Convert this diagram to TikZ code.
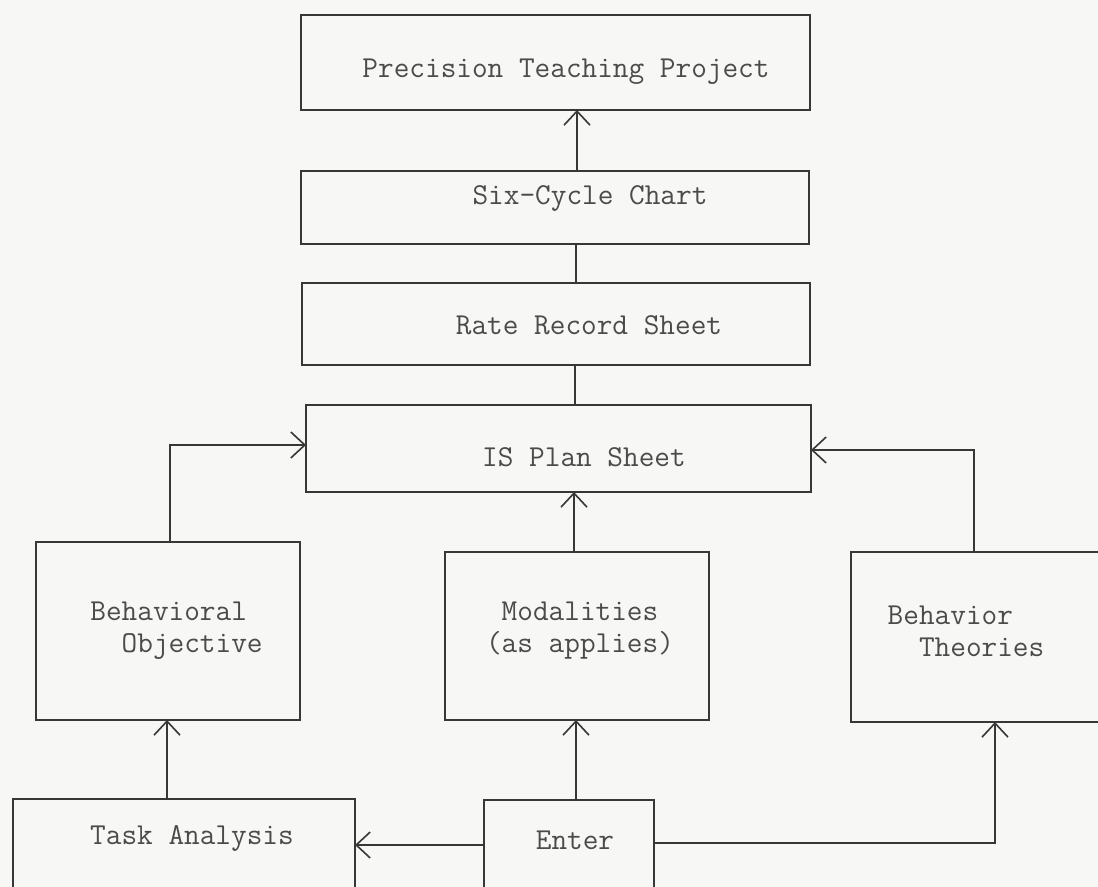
\documentclass[tikz,border=0pt]{standalone}
\usetikzlibrary{arrows.meta}
\definecolor{paper}{RGB}{247,247,245}
\definecolor{ink}{RGB}{55,55,55}
\definecolor{typeink}{RGB}{75,75,75}
\begin{document}
\begin{tikzpicture}[x=0.5pt,y=-0.5pt,
  box/.style={draw=ink, line width=0.8pt, rectangle, inner sep=0pt, outer sep=0pt},
  txt/.style={text=typeink, font=\fontsize{15.2pt}{16pt}\selectfont\ttfamily, inner sep=0pt},
  link/.style={draw=ink, line width=0.8pt},
  arr/.style={link, -{Straight Barb[length=7pt,width=13pt]}}]
% page
\fill[paper] (0,0) rectangle (1098,887);
\useasboundingbox (0,0) rectangle (1098,887);
\clip (0,0) rectangle (1098,887);

% boxes
\node[box, minimum width=254.5pt, minimum height=47.5pt] (ptp) at (555.5,62.5) {};
\node[box, minimum width=254pt, minimum height=36.5pt] (six) at (555,207.5) {};
\node[box, minimum width=254pt, minimum height=41pt] (rate) at (556,324) {};
\node[box, minimum width=252.5pt, minimum height=43.5pt] (isp) at (558.5,448.5) {};
\node[box, minimum width=132pt, minimum height=89pt] (bo) at (168,631) {};
\node[box, minimum width=132pt, minimum height=84pt] (mod) at (577,636) {};
\node[box, minimum width=139.5pt, minimum height=85pt] (bt) at (990.5,637) {};
\node[box, minimum width=171pt, minimum height=65.5pt] (ta) at (184,864.5) {};
\node[box, minimum width=85pt, minimum height=65pt] (ent) at (569,865) {};

% typed labels
\node[txt] (ptp-t) at (566,72) {Precision Teaching Project};
\node[txt] (six-t) at (590,199) {Six-Cycle Chart};
\node[txt] (rate-t) at (589,325) {Rate Record Sheet};
\node[txt] (isp-t) at (584,457) {IS Plan Sheet};
\node[txt, align=left] (bo-t) at (176.5,631) {Behavioral\\\hphantom{xx}Objective};
\node[txt, align=center] (mod-t) at (580,631) {Modalities\\(as applies)};
\node[txt, align=left] (bt-t) at (966,631) {Behavior\\\hphantom{xx}Theories};
\node[txt] (ta-t) at (192,838) {Task Analysis};
\node[txt] (ent-t) at (575,840) {Enter};

% connectors
\draw[arr] ([xshift=11pt]six.north) -- ([xshift=11pt]six.north |- ptp.south);
\draw[link] ([xshift=10pt]rate.north) -- ([xshift=10pt]rate.north |- six.south);
\draw[link] ([xshift=8.25pt]isp.north) -- ([xshift=8.25pt]isp.north |- rate.south);
\draw[arr] ([xshift=-1.5pt]mod.north) -- ([xshift=-1.5pt]mod.north |- isp.south);
\draw[arr] ([xshift=1pt]bo.north) |- ([yshift=1.75pt]isp.west);
\draw[arr] ([xshift=-8.25pt]bt.north) |- ([yshift=-0.75pt]isp.east);
\draw[arr] ([xshift=-8.5pt]ta.north) -- ([xshift=-8.5pt]ta.north |- bo.south);
\draw[arr] ([xshift=3.5pt]ent.north) -- ([xshift=3.5pt]ent.north |- mod.south);
\draw[arr] ([yshift=10pt]ent.west) -- ([yshift=10pt]ent.west -| ta.east);
\draw[arr] ([yshift=11pt]ent.east) -| ([xshift=2.25pt]bt.south);
\end{tikzpicture}
\end{document}
